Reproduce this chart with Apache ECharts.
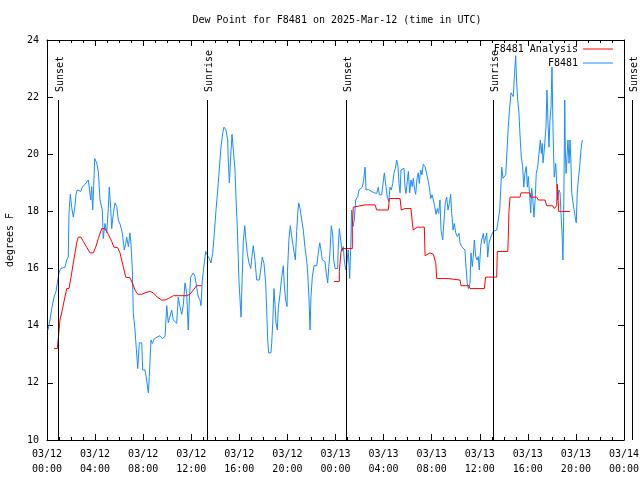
<!DOCTYPE html>
<html><head><meta charset="utf-8">
<script src="https://cdn.jsdelivr.net/npm/echarts@6/dist/echarts.min.js"></script>
<style>html,body{margin:0;padding:0;background:#fff}#c{width:640px;height:480px}</style>
</head><body><div id="c"></div>
<script>
// ---- data (hours since 03/12 00:00 UTC, dew point in degrees F) ----
const titleText = 'Dew Point for F8481 on 2025-Mar-12 (time in UTC)';
const tickDays  = ['03/12','03/12','03/12','03/12','03/12','03/12','03/13','03/13','03/13','03/13','03/13','03/13','03/14'];
const tickTimes = ['00:00','04:00','08:00','12:00','16:00','20:00','00:00','04:00','08:00','12:00','16:00','20:00','00:00'];
const sunHours = [0.915, 13.31, 24.87, 37.10, 48.70];
const sunNames = ['Sunset','Sunrise','Sunset','Sunrise','Sunset'];

const obsHours = [0.08,0.25,0.39,0.58,0.75,0.86,1.00,1.14,1.50,1.64,1.77,1.83,1.94,2.05,2.19,2.33,2.41,2.52,2.80,2.94,
3.16,3.44,3.52,3.64,3.72,3.80,3.88,3.97,4.13,4.27,4.41,4.60,4.68,4.82,4.97,5.10,5.18,5.30,5.38,5.52,
5.66,5.80,5.93,6.10,6.26,6.43,6.55,6.63,6.77,6.90,6.99,7.10,7.18,7.32,7.43,7.55,7.68,7.88,7.96,8.15,
8.29,8.43,8.51,8.65,8.76,8.93,9.07,9.40,9.59,9.82,9.96,10.09,10.23,10.37,10.51,10.65,10.79,10.92,11.06,11.21,
11.34,11.48,11.62,11.75,11.84,11.95,12.17,12.31,12.45,12.59,12.73,12.81,12.92,13.09,13.20,13.34,13.50,13.64,13.78,13.92,
14.06,14.20,14.33,14.47,14.62,14.72,14.89,15.03,15.08,15.17,15.28,15.39,15.50,15.64,15.72,15.83,15.97,16.06,16.14,16.25,
16.33,16.45,16.55,16.66,16.80,16.95,17.05,17.16,17.30,17.44,17.66,17.78,17.91,18.05,18.19,18.28,18.36,18.44,18.63,18.69,
18.78,18.88,18.97,19.05,19.16,19.24,19.38,19.52,19.66,19.74,19.85,19.97,20.02,20.13,20.24,20.36,20.47,20.57,20.66,20.77,
20.86,20.94,21.05,21.19,21.32,21.46,21.60,21.69,21.80,21.88,21.96,22.07,22.21,22.44,22.57,22.69,22.79,22.90,23.13,23.23,
23.35,23.44,23.54,23.65,23.77,23.85,23.96,24.18,24.23,24.32,24.43,24.54,24.65,24.73,24.85,24.96,25.06,25.18,25.26,25.34,
25.45,25.56,25.68,25.85,25.96,26.12,26.23,26.34,26.46,26.54,26.73,26.87,27.15,27.29,27.43,27.56,27.65,27.84,27.98,28.06,
28.20,28.31,28.43,28.53,28.64,28.76,28.87,28.98,29.09,29.20,29.28,29.37,29.45,29.56,29.70,29.78,29.86,29.97,30.06,30.17,
30.28,30.39,30.47,30.59,30.67,30.78,30.89,30.97,31.09,31.20,31.30,31.45,31.59,31.72,31.84,31.92,32.03,32.14,32.25,32.36,
32.47,32.58,32.69,32.78,32.92,33.03,33.13,33.25,33.36,33.47,33.58,33.67,33.78,33.88,34.00,34.13,34.27,34.36,34.49,34.63,
34.77,34.86,34.96,35.05,35.19,35.27,35.38,35.46,35.55,35.66,35.77,35.88,35.96,36.08,36.16,36.30,36.38,36.49,36.58,36.66,
36.77,36.88,36.99,37.13,37.27,37.41,37.54,37.66,37.77,37.83,37.93,38.04,38.16,38.27,38.37,38.49,38.60,38.71,38.79,38.87,
38.99,39.07,39.16,39.26,39.37,39.46,39.57,39.66,39.76,39.87,39.96,40.04,40.12,40.24,40.32,40.40,40.51,40.62,40.70,40.82,
40.93,41.04,41.12,41.20,41.26,41.34,41.43,41.51,41.59,41.68,41.76,41.84,41.93,42.01,42.09,42.15,42.20,42.32,42.40,42.48,
42.59,42.68,42.76,42.87,42.92,42.98,43.01,43.07,43.12,43.18,43.26,43.34,43.43,43.51,43.59,43.65,43.73,43.81,43.90,43.98,
44.03,44.11,44.20,44.31,44.42,44.53];
const obsDew = [13.85,14.2,14.6,15.0,15.2,15.5,15.85,16.0,16.05,16.3,16.4,17.95,18.6,18.15,17.8,18.2,18.6,18.75,18.7,18.85,
18.95,19.1,19.05,18.4,18.87,18.05,18.87,19.85,19.7,19.4,18.4,18.05,17.05,17.58,17.25,18.1,18.85,18.1,17.4,17.93,
18.3,18.17,17.7,17.53,17.25,16.65,16.88,17.1,16.77,17.25,16.83,15.95,14.45,13.85,13.2,12.5,13.4,13.4,12.45,12.45,
12.1,11.65,12.22,13.5,13.38,13.55,13.56,13.65,13.55,13.62,14.7,14.1,14.32,14.55,14.2,14.26,14.08,15.0,14.67,14.4,
14.73,15.5,15.13,13.85,14.9,15.7,15.85,15.72,15.35,15.0,14.9,14.7,15.6,16.2,16.6,16.47,16.35,16.2,16.53,17.25,
18.05,18.75,19.45,20.25,20.75,20.95,20.85,20.5,19.8,19.0,19.92,20.7,20.15,19.45,18.5,17.45,15.55,14.9,14.3,15.85,
16.95,17.5,17.0,16.53,16.2,16.0,16.42,16.8,16.3,15.6,15.6,15.95,16.4,16.18,15.5,14.5,13.5,13.05,13.05,13.38,
14.1,15.3,14.73,14.1,13.85,14.6,15.1,15.7,16.1,15.43,14.9,14.67,16.05,17.05,17.5,17.12,16.8,16.53,16.3,17.3,
17.95,18.3,18.1,17.7,17.35,16.75,16.3,15.85,14.9,13.85,15.02,15.7,16.1,16.1,16.55,16.9,16.65,16.3,16.24,15.85,
15.5,16.07,16.55,17.5,17.18,16.3,16.0,16.0,16.75,17.4,17.0,16.6,16.77,16.3,15.95,16.24,16.65,15.65,16.65,18.05,
17.47,17.7,18.4,18.52,18.75,18.81,18.85,19.1,19.55,18.75,18.77,18.7,18.66,18.6,18.63,18.85,18.58,18.58,18.52,19.35,
18.87,18.5,18.34,18.85,18.75,18.98,19.35,19.51,19.8,19.57,18.98,18.65,19.45,19.5,19.51,18.85,18.63,19.05,19.4,18.65,
19.1,18.87,19.16,18.75,18.6,19.16,19.35,18.98,19.45,19.28,19.65,19.57,19.5,19.05,18.75,18.45,18.58,18.4,18.17,17.9,
18.1,17.93,18.4,17.35,17.0,17.7,18.3,18.5,18.05,18.28,18.6,17.93,17.35,17.58,17.25,17.12,17.23,16.9,16.77,16.7,
16.65,16.05,15.5,15.3,15.48,16.55,16.07,16.42,17.0,16.42,16.3,16.42,15.95,16.77,17.0,17.23,16.88,16.88,17.25,16.4,
16.88,17.05,17.18,17.3,17.3,17.35,17.7,18.05,19.0,19.55,19.16,19.2,19.28,20.15,20.95,21.65,22.15,22.15,22.02,22.65,
23.45,22.5,21.9,21.45,20.5,19.9,19.57,18.85,19.35,19.57,18.85,19.22,18.75,17.95,18.81,18.52,17.8,18.5,19.33,19.55,
20.03,20.5,20.03,20.38,19.7,20.03,20.5,20.95,22.25,21.08,20.25,21.2,21.65,23.05,20.97,19.9,19.2,19.68,19.0,18.4,
18.75,18.65,17.93,17.0,16.3,17.82,19.1,21.9,20.15,19.33,19.92,20.5,19.68,20.5,19.68,18.65,18.4,18.15,17.93,17.7,
17.6,18.65,19.1,19.55,20.15,20.5];

const anaHours = [0.58,0.86,0.94,1.08,1.27,1.44,1.64,1.83,2.00,2.19,2.33,2.47,2.60,2.83,3.02,3.30,3.58,3.85,4.05,4.27,
4.55,4.83,5.10,5.38,5.57,5.88,6.07,6.35,6.55,6.90,7.10,7.32,7.55,7.88,8.15,8.57,8.84,9.18,9.54,9.82,
10.09,10.51,11.62,11.90,12.17,12.45,12.87,18.00,
23.87,24.32,24.32,24.46,24.57,25.40,25.40,25.48,26.45,27.29,27.43,28.39,28.48,29.37,29.47,29.78,30.28,30.39,30.47,30.80,
31.39,31.45,31.86,32.14,32.34,32.42,33.38,33.52,34.36,34.44,35.11,35.19,36.38,36.49,37.41,37.46,38.33,38.37,38.43,38.52,
39.35,39.43,40.18,40.24,40.74,40.87,41.43,41.57,42.07,42.20,42.40,42.45,42.51,42.57,42.82,43.51];
const anaDew = [13.2,13.2,13.55,14.2,14.55,14.9,15.3,15.3,15.7,16.2,16.55,16.9,17.1,17.1,16.95,16.75,16.55,16.55,16.75,17.05,
17.4,17.4,17.2,16.95,16.75,16.73,16.55,16.05,15.7,15.68,15.5,15.25,15.1,15.1,15.15,15.2,15.15,15.0,14.9,14.9,
14.95,15.05,15.05,15.1,15.25,15.4,15.4,null,
15.55,15.55,15.9,16.6,16.7,16.7,17.45,18.15,18.23,18.23,18.05,18.05,18.45,18.45,18.05,18.1,18.1,17.6,17.35,17.45,
17.45,16.45,16.55,16.5,16.2,15.65,15.65,15.62,15.6,15.4,15.4,15.3,15.3,15.7,15.7,16.6,16.6,17.05,18.0,18.5,
18.5,18.65,18.65,18.5,18.5,18.4,18.4,18.2,18.2,18.1,18.2,18.95,18.95,18.0,18.0,18.0];

// ---- chart ----
const FONT = '"DejaVu Sans Mono", "Liberation Mono", monospace';
const txt = {fontFamily: FONT, fontSize: 10, color: '#000'};
const chart = echarts.init(document.getElementById('c'), null, {renderer: 'canvas'});

function xAxisDef(pos, showLabel) {
  return {
    type: 'value', min: 0, max: 48, interval: 4, position: pos,
    axisLine: {show: true, onZero: false, lineStyle: {color: '#000', width: 1}},
    axisTick: {show: true, inside: true, length: 6, lineStyle: {color: '#000'}},
    minorTick: {show: true, splitNumber: 4, length: 3, lineStyle: {color: '#000'}},
    splitLine: {show: false}, minorSplitLine: {show: false},
    axisLabel: showLabel ? Object.assign({
      show: true, margin: 7, lineHeight: 15, hideOverlap: false,
      formatter: function (v) { const i = Math.round(v / 4); return tickDays[i] + '\n' + tickTimes[i]; }
    }, txt) : {show: false}
  };
}
function yAxisDef(pos, showLabel) {
  return {
    type: 'value', min: 10, max: 24, interval: 2, position: pos,
    axisLine: {show: true, onZero: false, lineStyle: {color: '#000', width: 1}},
    axisTick: {show: true, inside: true, length: 6, lineStyle: {color: '#000'}},
    splitLine: {show: false},
    name: showLabel ? 'degrees F' : '', nameLocation: 'middle', nameRotate: 90, nameGap: 32,
    nameTextStyle: txt,
    axisLabel: showLabel ? Object.assign({show: true, margin: 8}, txt) : {show: false}
  };
}

function toPairs(xs, ys) { return xs.map((x, i) => [x, ys[i]]); }

chart.setOption({
  animation: false,
  backgroundColor: '#fff',
  title: {text: titleText, left: 332, top: 10, textAlign: 'center',
    textStyle: {fontFamily: FONT, fontSize: 10, fontWeight: 'normal', color: '#000'}},
  grid: {left: 47, right: 16, top: 40, bottom: 40, containLabel: false, outerBoundsMode: 'none'},
  xAxis: [xAxisDef('bottom', true), xAxisDef('top', false)],
  yAxis: [yAxisDef('left', true), yAxisDef('right', false)],
  legend: [
    {data: ['F8481 Analysis'], right: 27, top: 44, align: 'right', orient: 'vertical', padding: 0,
      icon: 'rect', itemWidth: 30, itemHeight: 1, selectedMode: false, textStyle: txt},
    {data: ['F8481'], right: 27, top: 58, align: 'right', orient: 'vertical', padding: 0,
      icon: 'rect', itemWidth: 30, itemHeight: 1, selectedMode: false, textStyle: txt}
  ],
  series: [
    {name: 'F8481 Analysis', type: 'line', xAxisIndex: 0, yAxisIndex: 0, data: toPairs(anaHours, anaDew),
      symbol: 'none', connectNulls: false, lineStyle: {color: '#ff0000', width: 1}, itemStyle: {color: '#ff0000'}, z: 3},
    {name: 'F8481', type: 'line', xAxisIndex: 0, yAxisIndex: 0, data: toPairs(obsHours, obsDew),
      symbol: 'none', lineStyle: {color: '#1a8cff', width: 1}, itemStyle: {color: '#1a8cff'}, z: 2}
  ]
});

// sunrise / sunset markers
const lineTopValue = 21.9, labelBaseValue = 22.18;
const gfx = [];
sunHours.forEach(function (h, i) {
  const pTop = chart.convertToPixel({gridIndex: 0}, [h, lineTopValue]);
  const pBot = chart.convertToPixel({gridIndex: 0}, [h, 10]);
  const pLab = chart.convertToPixel({gridIndex: 0}, [h, labelBaseValue]);
  const x = Math.round(pTop[0]) + 0.5;
  gfx.push({type: 'line', silent: true, z: 10,
    shape: {x1: x, y1: pTop[1], x2: x, y2: pBot[1]},
    style: {stroke: '#000', lineWidth: 1}});
  gfx.push({type: 'text', silent: true, z: 10, x: x + 1.5, y: pLab[1], rotation: Math.PI / 2,
    style: {text: sunNames[i], font: '10px ' + FONT, fill: '#000',
      textAlign: 'left', textVerticalAlign: 'middle', align: 'left', verticalAlign: 'middle'}});
});
chart.setOption({graphic: gfx});
</script>
</body></html>
